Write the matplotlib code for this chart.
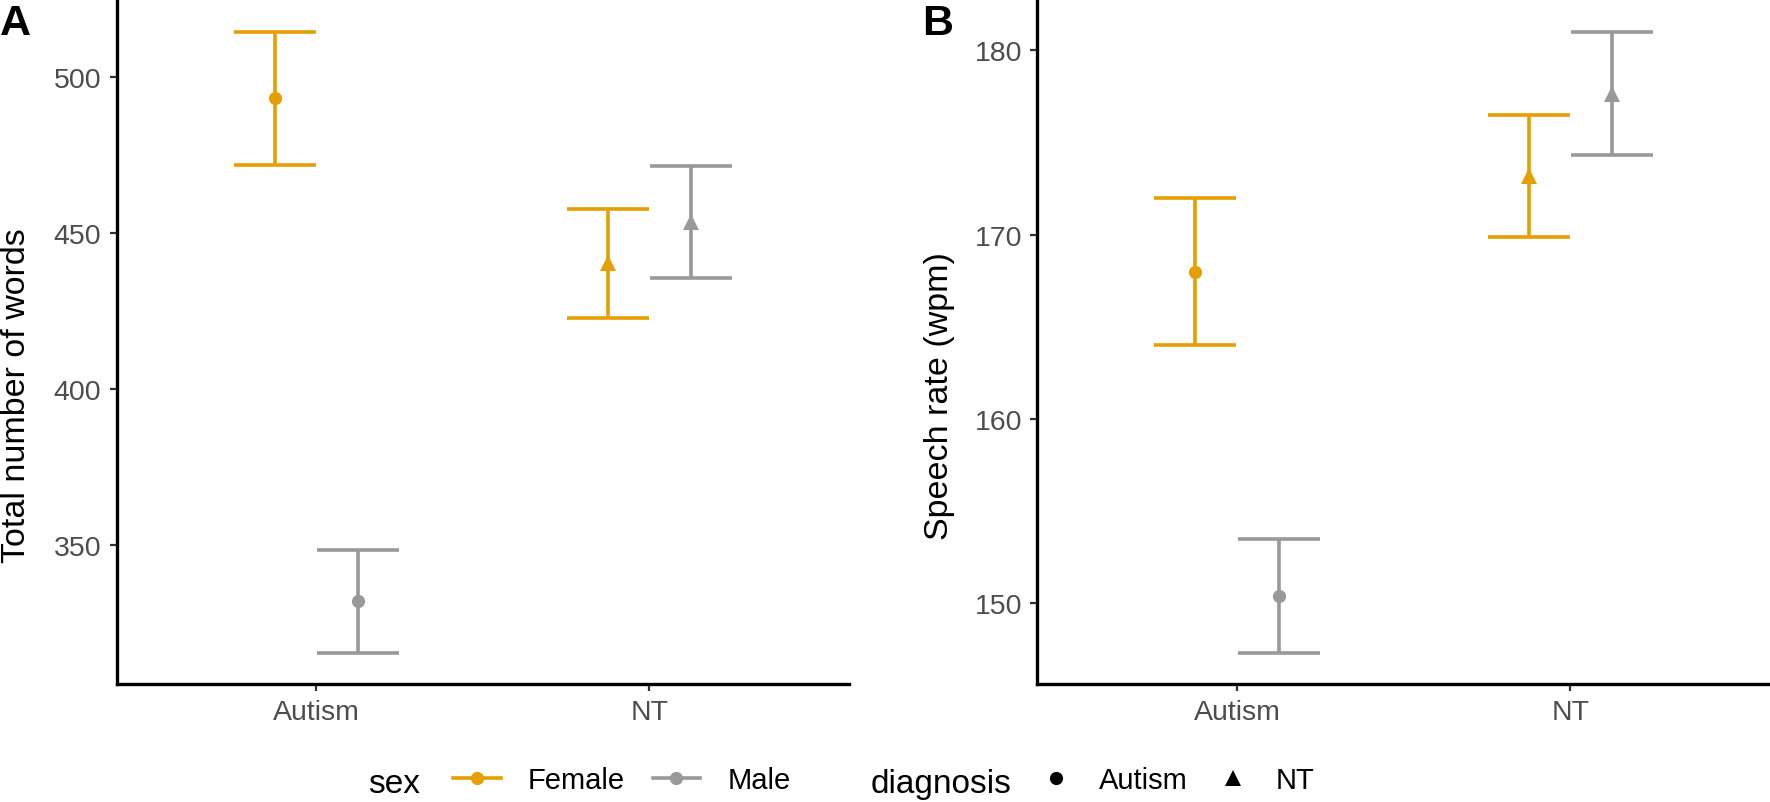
import matplotlib
matplotlib.use('Agg')
import matplotlib.pyplot as plt
from matplotlib.lines import Line2D
import numpy as np

plt.rcParams['font.family'] = ['Liberation Sans', 'DejaVu Sans']

diagnosis = ['Autism', 'NT']
sexes = ['Female', 'Male']
sex_colors = {'Female': '#E69F00', 'Male': '#999999'}
diag_markers = {'Autism': 'o', 'NT': '^'}

# panel A: total number of words (mean, se)
words_female_mean = [493.2, 440.3]
words_female_se = [21.3, 17.5]
words_male_mean = [331.9, 453.6]
words_male_se = [16.5, 17.9]

# panel B: speech rate (wpm)
rate_female_mean = [168.0, 173.2]
rate_female_se = [4.0, 3.3]
rate_male_mean = [150.4, 177.65]
rate_male_se = [3.1, 3.35]

words_ticks = [350, 400, 450, 500]
rate_ticks = [150, 160, 170, 180]

W, H = 1770, 803
fig = plt.figure(figsize=(W / 100, H / 100), dpi=100)

DODGE = 0.125
TICK_GRAY = '#4D4D4D'


def panel(rect, means, ses, yticks, ylabel, letter, label_x):
    ax = fig.add_axes(rect)
    lo, hi = [], []
    for k, sex in enumerate(sexes):
        off = -DODGE if k == 0 else DODGE
        m = np.array(means[sex])
        s = np.array(ses[sex])
        xs = np.arange(1, len(diagnosis) + 1) + off
        ax.errorbar(xs, m, yerr=s, fmt='none', ecolor=sex_colors[sex],
                    elinewidth=2.6, capsize=29.8, capthick=2.6, zorder=2)
        for x, y, d in zip(xs, m, diagnosis):
            ax.plot([x], [y], linestyle='none', marker=diag_markers[d],
                    markersize=9.5 if d == 'Autism' else 11,
                    color=sex_colors[sex], markeredgewidth=0, zorder=3)
        lo.append((m - s).min())
        hi.append((m + s).max())
    ymin, ymax = min(lo), max(hi)
    pad = (ymax - ymin) * 0.05
    ax.set_ylim(ymin - pad, ymax + pad)
    ax.set_xlim(0.4, 2.6)
    ax.set_xticks([1, 2])
    ax.set_xticklabels(diagnosis)
    ax.set_yticks(yticks)
    for side in ['top', 'right']:
        ax.spines[side].set_visible(False)
    for side in ['left', 'bottom']:
        ax.spines[side].set_linewidth(2.4)
        ax.spines[side].set_color('black')
        ax.spines[side].set_capstyle('projecting')
    ax.tick_params(axis='both', length=5, width=1.6, color='#333333',
                   labelsize=20.5, labelcolor=TICK_GRAY)
    ax.tick_params(axis='y', pad=6)
    ax.tick_params(axis='x', pad=6)
    ax.set_ylabel(ylabel, fontsize=24.5, color='black')
    ax.yaxis.set_label_coords(label_x, 0.423)
    fig.text(letter[1] / W, 1 - 4 / H, letter[0], fontsize=31,
             fontweight='bold', ha='left', va='top')
    return ax


axA = panel([116.7 / W, (H - 685) / H, (849.3 - 116.7) / W, (685 - 2) / H],
            {'Female': words_female_mean, 'Male': words_male_mean},
            {'Female': words_female_se, 'Male': words_male_se},
            words_ticks, 'Total number of words', ('A', 0), (32 - 116.7) / 732.6)
axB = panel([1037.3 / W, (H - 685) / H, (1770 - 1037.3) / W, (685 - 2) / H],
            {'Female': rate_female_mean, 'Male': rate_male_mean},
            {'Female': rate_female_se, 'Male': rate_male_se},
            rate_ticks, 'Speech rate (wpm)', ('B', 922), (955 - 1037.3) / 732.7)

# legends along the bottom
leg_y = 1 - 781 / H
fig.text(368 / W, leg_y, 'sex', fontsize=24, ha='left', va='center_baseline')
sex_handles = [Line2D([], [], color=sex_colors[s], lw=2.6, marker='o',
                      markersize=9.5, markeredgewidth=0) for s in sexes]
fig.legend(sex_handles, sexes, loc='center left', bbox_to_anchor=(453 / W, leg_y),
           ncol=2, frameon=False, fontsize=21, borderpad=0, borderaxespad=0,
           handlelength=1.64, handletextpad=0.92, columnspacing=0.95)

fig.text(871 / W, leg_y, 'diagnosis', fontsize=24, ha='left', va='center_baseline')
diag_handles = [Line2D([], [], color='black', linestyle='none', marker=diag_markers[d],
                       markersize=9.5 if d == 'Autism' else 11, markeredgewidth=0)
                for d in diagnosis]
fig.legend(diag_handles, diagnosis, loc='center left', bbox_to_anchor=(1041.5 / W, leg_y),
           ncol=2, frameon=False, fontsize=21, borderpad=0, borderaxespad=0,
           handlelength=1.0, handletextpad=0.98, columnspacing=1.04)

fig.savefig('out.png', dpi=100, facecolor='white')
